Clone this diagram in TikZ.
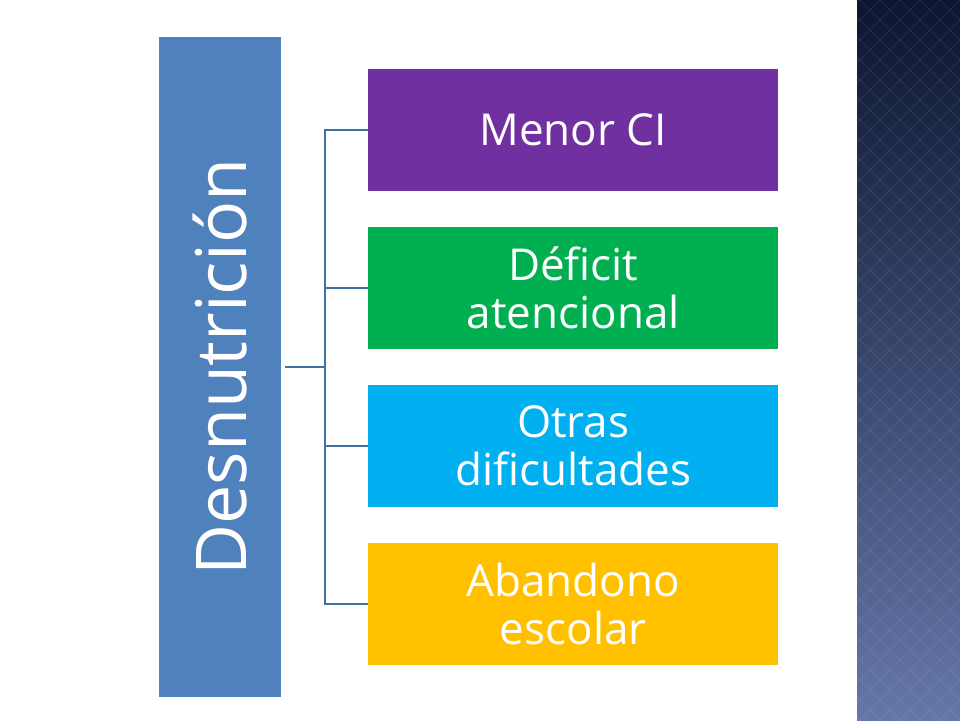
\documentclass[tikz,border=0pt]{standalone}
\usepackage{fontspec}
\setmainfont{Open Sans}
\begin{document}
\begin{tikzpicture}[x=1pt,y=-1pt,
  box/.style={minimum width=410pt,minimum height=122pt,anchor=north west,text=white,align=center,font=\fontsize{44}{48}\selectfont,inner sep=0pt},
  conn/.style={draw={rgb,255:red,65;green,113;blue,156},line width=2.2pt}]
\useasboundingbox (0,0) rectangle (960,720);
\fill[white] (0,0) rectangle (960,720);
\shade[top color={rgb,255:red,12;green,22;blue,48},bottom color={rgb,255:red,100;green,118;blue,168}] (857,0) rectangle (960,720);
\foreach \i in {0,...,36}{\foreach \j in {0,...,5}{
  \draw[white,opacity=0.08,line width=1pt] (860+\j*20,\i*20) -- ++(10,10) -- ++(-10,10) -- ++(-10,-10) -- cycle;}}
\node[fill={rgb,255:red,79;green,129;blue,189},minimum width=122pt,minimum height=660pt,anchor=north west,inner sep=0pt] (main) at (159,37) {};
\node[rotate=90,text=white,font=\fontsize{70}{80}\selectfont] at (main.center) {Desnutrición};
\node[box,fill={rgb,255:red,112;green,48;blue,160}] (b1) at (368,69) {Menor CI};
\node[box,fill={rgb,255:red,0;green,176;blue,80}] (b2) at (368,227) {Déficit\\atencional};
\node[box,fill={rgb,255:red,0;green,176;blue,240}] (b3) at (368,385) {Otras\\dificultades};
\node[box,fill={rgb,255:red,255;green,192;blue,0}] (b4) at (368,543) {Abandono\\escolar};
\coordinate (s) at (285,367);
\coordinate (m) at (325,367);
\draw[conn] (s) -- (m);
\foreach \b in {b1,b2,b3,b4}{\draw[conn] (m) |- (\b.west);}
\end{tikzpicture}
\end{document}
